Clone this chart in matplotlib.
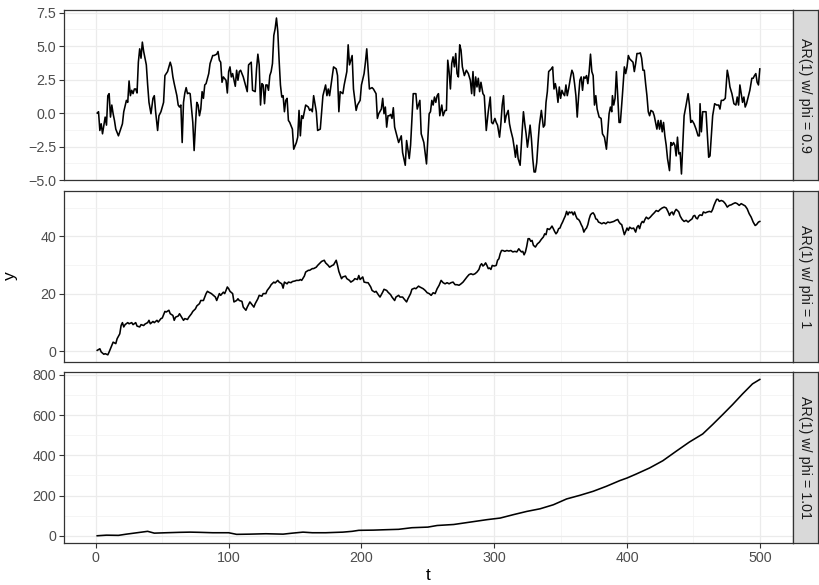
import matplotlib
matplotlib.use("Agg")
import matplotlib.pyplot as plt

# values, t = time step, y = simulated series
phi09_t = [
    1, 2, 3, 4, 5, 6, 7, 8, 9, 10, 11, 12, 13, 14, 15, 17, 18, 20, 21, 23,
    24, 25, 26, 27, 28, 29, 30, 31, 32, 33, 34, 35, 36, 38, 39, 40, 41.5, 43, 44, 45,
    46.5, 47.5, 49, 51, 52, 54, 55, 56, 57, 58, 59, 61, 62, 63, 64, 65, 66, 67, 68, 69,
    70, 71, 73, 74, 75, 76, 77, 78, 79, 80, 81, 82, 83, 85, 86, 88, 89, 91, 92, 93,
    94, 95, 96, 98, 99, 100, 101, 102, 103, 105, 106, 107, 108,
    109, 111, 113, 114, 115, 116, 117, 118, 120, 121, 122, 123, 124, 125, 126, 127, 128, 129, 130, 131,
    132, 133, 134, 135, 136, 137, 138, 139, 140, 141, 142, 143, 144, 145, 146, 148, 149, 151, 152, 153,
    154, 155, 156, 157, 158, 160, 161, 162, 163, 164, 166, 167, 169, 171, 173, 174, 175, 176, 178, 179,
    181, 182, 183, 184, 186, 187, 189, 190, 191, 193, 194, 196, 197, 199, 200, 202, 203, 204, 205, 206,
    208, 209, 211, 212, 213, 215, 216, 217, 218, 219, 220, 221, 222, 223, 224, 225, 227, 228, 230, 231,
    233, 234, 236, 237, 239, 241, 242, 244, 245, 247, 249,
    251, 252, 253, 254, 255, 256, 257, 258, 259, 260.5, 261.5, 263, 264, 265, 266, 267, 268, 269, 270, 271,
    272, 273, 274, 275, 276, 277.5, 279, 280.5, 282, 283, 284, 285, 286, 287, 288, 289, 290, 291.5, 292.5, 293.5,
    294, 295.5, 297, 298, 299, 300.5, 301.5, 302.5, 304, 305, 306, 307, 308, 309, 310.5, 311.5, 312.5, 314, 315, 316,
    317, 318, 319.5, 321, 322, 323, 324, 325, 326, 327, 328, 329, 330, 331, 332, 333, 334, 335.5, 337, 338,
    339, 340, 341, 342, 343, 344, 345, 346, 347, 348, 349, 350, 351, 352, 353, 354, 355, 356, 357.5, 358.5,
    359.5, 360.5, 361.5, 362.5, 363.5, 364.5, 365.5, 366.5, 367.5, 368.5, 369.5, 370.5, 371.5, 372.5, 373.5, 374.5, 375.5, 376.5, 377.5, 379,
    380.5, 381.5, 383, 384.5,
    386.5, 387.5, 388.5, 389, 390, 391, 392, 393, 394, 395, 396.5, 398, 399, 400, 401, 402, 403, 404.5, 405.5, 406.5,
    407.5, 409, 410, 411, 412, 413, 414, 415, 416, 417, 418, 419.5, 420.5, 421.5, 422.5, 423.5, 424.5, 425.5, 426.5, 427.5,
    428.5, 429.5, 430.5, 432, 433, 434, 435, 436, 437, 438, 439, 440, 441, 442, 443, 444.5, 446, 447, 448, 449,
    450.5, 452, 453.5, 454.5, 455, 456, 457, 458, 459.5, 460.5, 461.5, 462.5, 463.5, 464.5, 466, 467.5, 469, 470, 471, 472.5,
    474, 475.5, 476.5, 477.5, 479, 480.5, 482, 483, 484, 485, 486, 487, 488, 489, 490, 491.5, 492.5, 494, 495, 496,
    497, 498, 499, 500,
]
phi09_y = [
    0.0, 0.1, -1.3, -0.8, -1.55, -0.9, -0.3, -0.9, 1.3, 1.45, -0.3, 0.6, -0.05, -0.55, -1.2, -1.7, -1.4, -0.8, 0.1, 0.95,
    0.8, 2.4, 1.3, 1.7, 1.45, 1.8, 1.8, 1.5, 3.8, 4.8, 4.1, 5.3, 4.6, 3.6, 2.1, 0.8, -0.05, 1.1, 1.3, 0.1,
    -1.3, -0.2, 0.1, 0.8, 2.8, 3.1, 3.45, 3.8, 3.45, 2.7, 2.2, 1.3, 0.6, 0.45, 0.6, -2.2, 0.8, 1.5, 1.9, 1.45,
    1.5, 1.45, -0.7, -2.8, -0.9, 0.8, 0.6, -0.2, 0.3, 1.6, 1.1, 2.1, 2.2, 2.95, 3.7, 4.3, 4.3, 4.4, 4.6, 3.95,
    3.8, 2.3, 2.7, 2.45, 1.5, 3.1, 3.45, 2.7, 2.95, 2.0, 3.2, 2.45, 3.1,
    3.2, 2.7, 1.95, 1.6, 3.6, 3.7, 3.8, 1.7, 1.6, 3.3, 4.4, 3.6, 0.6, 2.2, 2.1, 0.7, 2.1, 2.1, 1.7, 2.8,
    3.1, 3.7, 5.8, 6.3, 7.1, 6.1, 3.95, 2.1, 1.2, 1.3, 0.1, 0.95, 1.1, -0.55, -0.7, -1.2, -2.7, -2.2, -1.8, 0.2,
    -1.7, -0.2, -0.4, 0.1, 0.6, 0.45, 0.2, 0.3, 0.1, 1.3, 0.1, -1.3, -1.2, 1.3, 2.1, 1.3, 1.8, 1.3, 2.7, 3.45,
    3.3, 2.8, 0.1, 1.6, 1.45, 2.1, 3.1, 5.1, 3.6, 4.3, 1.8, 0.2, 0.6, 0.95, 2.1, 2.95, 3.8, 4.8, 3.3, 1.8,
    1.9, 1.8, 1.45, -0.4, -0.05, 0.3, 1.1, -0.05, 0.45, -1.05, -0.2, -0.2, -0.1, -0.4, 0.4, -1.05, -1.8, -2.2, -1.7, -2.95,
    -3.9, -2.05, -3.4, -2.4, 1.45, 1.45, 0.3, 0.95, -1.55, -2.2, -3.8,
    -0.05, 0.1, 0.95, 0.6, 1.2, 0.8, 1.3, 1.45, -0.2, 0.6, -0.2, 0.2, 0.2, 3.95, 3.1, 1.8, 3.7, 4.2, 3.45, 4.45,
    2.95, 2.7, 5.1, 4.7, 3.45, 2.8, 3.2, 2.95, 2.45, 1.45, 3.1, 1.3, 2.7, 1.95, 2.6, 1.6, 2.3, 1.45, 1.3, -0.4,
    -1.3, 0.1, 1.2, -0.7, -0.8, -0.4, -0.7, -0.9, -1.8, -0.8, 0.6, 1.3, -0.7, -0.2, 0.2, -0.8, -1.3, -1.9, -2.55, -3.3,
    -2.4, -3.4, -3.9, -1.4, 0.1, -0.8, -1.55, -2.55, -1.8, -0.9, -1.9, -3.4, -4.4, -4.4, -3.7, -2.2, -0.9, 0.2, -1.05, -0.9,
    0.8, 1.6, 3.1, 3.2, 3.3, 3.45, 1.8, 2.2, 1.7, 0.8, 1.95, 1.1, 1.7, 1.45, 1.3, 2.1, 1.3, 1.8, 2.7, 3.2,
    2.95, 2.2, 1.3, -0.3, 1.2, 2.45, 2.7, 1.7, 2.7, 2.6, 2.8, 2.2, 3.1, 4.4, 3.1, 2.8, 0.6, 1.3, 0.3, -0.3,
    -0.4, -1.55, -1.8, -2.7,
    -0.05, 0.45, 0.1, 1.3, 0.6, 1.1, 3.1, 1.3, -0.7, -0.7, 1.3, 3.45, 2.95, 3.45, 4.3, 4.05, 3.95, 3.8, 3.1, 3.7,
    4.45, 4.45, 4.5, 4.1, 3.2, 3.2, 2.2, 1.3, 0.1, -0.2, 0.2, 0.1, -0.2, -0.7, -1.2, -0.55, -1.2, -0.55, -1.4, -0.7,
    -1.7, -2.4, -3.4, -4.3, -2.2, -2.4, -2.2, -2.4, -3.2, -1.8, -3.05, -2.95, -4.55, -2.4, -0.2, 0.6, 1.45, 0.6, -0.7, -0.55,
    -0.8, -1.2, -1.7, -1.7, 0.7, -1.4, 0.1, 0.1, 0.1, -1.55, -3.3, -3.2, -1.7, -0.2, 0.7, 0.6, 0.6, 0.3, 0.95, 0.95,
    1.1, 3.2, 2.7, 1.95, 1.45, 0.7, 0.6, 1.2, 0.6, 2.1, 1.45, 0.8, 1.2, 0.45, 0.7, 1.3, 1.7, 2.6, 2.6, 2.8,
    2.95, 2.3, 2.1, 3.3,
]

phi1_t = [
    1, 3, 4, 6, 7, 9, 10, 12, 13, 15, 16, 18, 19, 20, 21, 22, 24, 25, 27, 28,
    30, 31, 33, 34, 36, 37, 39, 40, 41, 43, 44, 46, 47, 49, 50, 52, 53, 55, 56, 58,
    59, 60, 62, 63, 65, 66, 67, 69, 70, 72, 73, 75, 76, 78, 79, 81, 82, 83, 84, 85,
    87, 88, 90, 91, 93, 94, 96, 97, 98, 99, 100, 101, 103, 104, 106, 107, 108, 110, 111, 113,
    114, 116, 117, 119, 120, 122, 123, 125, 126, 128, 129, 131, 132, 134, 135, 137, 138, 140, 141, 142,
    144, 145, 147, 148, 150, 151, 153, 154, 155, 157, 158, 160, 161, 163, 164, 166, 167, 169, 170, 172,
    173, 175, 176, 178, 179, 181, 182, 183, 185, 186, 188, 189, 191, 192, 194, 195, 197, 198, 199, 201,
    202, 204, 205, 207, 208, 210, 211, 213, 214, 216, 217, 219, 220, 222, 223, 225, 226, 228, 229, 231,
    232, 234, 235, 237, 238, 240, 241, 243, 244,
    246.5, 248, 249.5, 251, 252.5, 254, 255.5, 257, 258.5, 260, 261.5, 263, 264.5, 266, 267.5, 269, 270.5, 272, 273.5, 275,
    276.5, 278, 279.5, 281, 282.5, 284, 285.5, 287, 288.5, 289.5, 290.5, 291.5, 292.5, 293.5, 294.5, 295.5, 296.5, 297.5, 298.5, 300,
    301.5, 302.5, 303.5, 304.5, 305.5, 306.5, 308, 309.5, 311, 312.5, 314, 315.5, 317, 318.5, 319.5, 320.5, 321.5, 322.5, 323.5, 324.5,
    325.5, 326.5, 327.5, 328.5, 329.5, 331, 332.5, 334, 335.5, 337, 338, 339, 340, 341.5, 342.5, 343.5, 344.5, 345.5, 346.5, 347.5,
    348.5, 349.5, 350.5, 351.5, 352.5, 353.5, 354.5, 355.5, 356.5, 357.5, 358.5, 359.5, 360.5, 361.5, 362.5, 363.5, 364.5, 365.5, 366.5, 367.5,
    368.5, 369.5, 370.5, 371.5, 372.5, 373.5, 374.5, 375.5, 376.5, 377.5, 378.5, 379.5, 381, 382.5, 384, 385.5, 387, 388.5, 390, 391.5,
    393, 394, 395, 396, 397, 398, 399, 400, 401, 402, 403.5, 405, 406.5, 407.5, 408.5, 409.5, 410.5, 411.5, 412.5, 413.5,
    414.5, 416, 417.5, 419, 420.5, 422, 423.5, 425, 426.5, 428, 429.5, 431, 432, 433, 434, 435, 436, 437, 438, 439,
    440, 441.5, 443, 444.5, 446, 447.5, 449, 450, 451, 452, 453, 454, 455, 456.5, 457.5, 459, 460.5, 462, 463.5, 464.5,
    465.5, 466.5, 467.5, 468.5, 469.5, 471, 472.5, 474, 475.5, 477, 478.5, 480, 481.5, 483, 484.5, 486, 487.5, 489, 490.5, 492,
    493.5, 495, 496.5, 497.5, 499, 500,
]
phi1_y = [
    0.35, 0.9, -0.2, -1.0, -0.8, -1.2, -0.2, 2.1, 3.2, 2.7, 4.4, 6.1, 9.0, 10.0, 8.5, 9.3, 10.0, 9.6, 10.0, 9.3,
    10.0, 8.8, 8.5, 9.3, 9.0, 9.5, 10.0, 10.8, 9.6, 10.4, 10.0, 10.8, 10.2, 11.4, 11.6, 13.9, 13.7, 14.3, 13.1, 12.5,
    10.8, 11.9, 12.3, 13.1, 11.6, 10.8, 11.4, 11.1, 11.9, 13.1, 13.9, 14.8, 15.8, 16.6, 17.7, 17.7, 18.9, 20.1, 20.9, 20.6,
    20.1, 19.7, 18.9, 17.7, 20.1, 19.5, 20.6, 20.1, 21.2, 22.4, 21.8, 20.9, 20.1, 17.2, 17.7, 18.3, 17.7, 17.4, 15.4, 14.3,
    15.4, 17.2, 16.6, 15.4, 16.6, 18.3, 19.5, 19.2, 20.1, 20.1, 21.2, 22.4, 23.2, 24.1, 23.8, 24.7, 24.1, 23.5, 22.0, 24.1,
    23.5, 24.1, 23.9, 24.3, 24.5, 24.7, 24.7, 25.0, 24.7, 26.2, 27.6, 28.2, 28.2, 28.8, 28.8, 29.3, 29.9, 30.8, 31.3, 31.7,
    30.8, 29.9, 29.3, 29.9, 30.1, 31.7, 29.9, 27.8, 25.3, 25.9, 26.2, 25.3, 24.7, 24.1, 24.7, 25.3, 25.0, 26.4, 25.0, 25.9,
    24.1, 23.9, 23.9, 22.4, 21.2, 20.6, 20.9, 19.5, 18.9, 20.6, 21.6, 21.2, 20.6, 19.7, 18.9, 17.7, 18.9, 19.5, 18.9, 18.9,
    18.3, 17.2, 18.3, 20.1, 21.6, 22.0, 21.8, 22.7, 22.4,
    21.8, 21.2, 20.4, 20.1, 19.5, 20.4, 20.1, 21.8, 23.0, 24.7, 23.9, 23.5, 23.9, 23.5, 23.9, 24.1, 23.2, 23.2, 23.0, 23.5,
    24.1, 25.0, 25.9, 26.7, 27.0, 26.7, 27.0, 27.6, 28.5, 29.9, 30.5, 29.7, 30.1, 30.8, 29.9, 28.8, 29.0, 28.5, 29.9, 29.7,
    29.9, 31.7, 32.2, 34.0, 35.1, 35.1, 34.8, 35.1, 34.9, 35.1, 34.6, 34.8, 34.6, 35.7, 35.1, 34.6, 34.8, 33.6, 34.6, 36.6,
    39.2, 39.2, 38.3, 38.6, 36.9, 36.3, 37.4, 38.0, 39.0, 39.8, 40.9, 40.6, 42.7, 42.4, 42.9, 43.6, 42.7, 41.7, 40.9, 41.5,
    42.7, 42.9, 44.1, 45.0, 46.1, 47.1, 48.7, 47.5, 48.5, 48.2, 48.5, 47.5, 48.5, 47.1, 46.1, 45.9, 45.2, 44.1, 43.2, 41.5,
    42.4, 42.9, 44.1, 46.1, 47.5, 48.0, 48.2, 47.5, 46.1, 45.9, 45.0, 44.8, 44.4, 44.8, 44.4, 45.0, 44.8, 45.0, 45.2, 45.6,
    45.9, 45.0, 44.4, 44.1, 42.4, 40.6, 41.7, 42.9, 42.1, 43.2, 42.7, 42.9, 41.5, 43.2, 43.8, 42.7, 44.4, 45.2, 44.8, 45.9,
    46.7, 46.1, 46.7, 47.5, 48.2, 49.0, 48.7, 49.4, 49.9, 50.2, 49.9, 48.5, 47.3, 48.2, 48.5, 47.5, 48.7, 49.4, 49.0, 48.5,
    47.1, 45.9, 45.2, 45.6, 45.0, 45.6, 46.1, 47.1, 47.3, 46.4, 46.1, 47.1, 47.5, 47.3, 48.5, 48.2, 48.5, 48.7, 48.5, 49.4,
    50.8, 51.9, 52.9, 52.9, 52.2, 52.5, 52.2, 51.4, 50.2, 50.8, 51.0, 51.4, 51.7, 51.4, 50.8, 51.4, 51.0, 50.6, 49.6, 47.9,
    46.7, 45.0, 43.8, 44.1, 45.0, 45.2,
]

phi101_t = [
    1, 8, 17, 23, 31, 39, 44, 53, 63, 71, 78, 88, 100, 106, 116, 128, 141, 148, 156, 163,
    173, 186, 193, 198, 209, 218, 228, 238, 250, 257, 269.5, 282, 294.5, 304.5, 314.5, 324.5, 334.5, 344.5, 354.5, 364.5,
    374.5, 384.5, 394.5, 400, 407, 417, 427, 437, 447, 457, 464.5, 472, 479.5, 487, 494.5, 500,
]
phi101_y = [
    0, 3, 2, 8, 15, 22, 13, 15, 17, 18, 17, 15, 15, 7, 8, 10, 8, 13, 18, 15,
    15, 18, 22, 27, 28, 30, 32, 40, 43, 51, 56, 68, 80, 88, 105, 121, 134, 154, 183, 201,
    221, 246, 274, 287, 307, 337, 373, 420, 466, 506, 553, 602, 652, 705, 755, 777,
]

strip_labels = ["AR(1) w/ phi = 0.9", "AR(1) w/ phi = 1", "AR(1) w/ phi = 1.01"]
y_ticks = [[-5.0, -2.5, 0.0, 2.5, 5.0, 7.5], [0, 20, 40], [0, 200, 400, 600, 800]]
y_ticklabels = [["\u22125.0", "\u22122.5", "0.0", "2.5", "5.0", "7.5"],
                ["0", "20", "40"],
                ["0", "200", "400", "600", "800"]]
x_ticks = [0, 100, 200, 300, 400, 500]

W, H = 820, 585
FONT = "Liberation Sans"
TICK_SIZE = 10.3


def box(left, top, right, bottom):
    return [left / W, 1 - bottom / H, (right - left) / W, (bottom - top) / H]


fig = plt.figure(figsize=(W / 100, H / 100), dpi=100)
fig.patch.set_facecolor("white")

series = [(phi09_t, phi09_y), (phi1_t, phi1_y), (phi101_t, phi101_y)]
rows = [(10, 180), (191, 362), (372, 543)]
ylims = [(-5.0, 7.7), (-3.7, 55.8), (-36, 814)]

for i, ((t, y), (top, bottom)) in enumerate(zip(series, rows)):
    ax = fig.add_axes(box(64, top, 793, bottom))
    ax.plot(t, y, color="black", lw=1.15, solid_joinstyle="round")
    ax.set_xlim(-24, 525)

    ax.set_xticks(x_ticks)
    ax.set_xticks([50, 150, 250, 350, 450], minor=True)
    yt = y_ticks[i]
    step = yt[1] - yt[0]
    ax.set_yticks(yt)
    ax.set_yticks([v + step / 2 for v in [yt[0] - step] + yt], minor=True)
    ax.set_yticklabels(y_ticklabels[i], fontsize=TICK_SIZE, color="#4D4D4D", family=FONT)
    ax.set_ylim(*ylims[i])

    ax.grid(which="major", color="#EBEBEB", lw=0.9)
    ax.grid(which="minor", color="#F2F2F2", lw=0.5)
    ax.set_axisbelow(True)
    ax.tick_params(axis="both", which="minor", length=0)
    ax.tick_params(axis="y", which="major", length=3.5, width=0.8, color="#333333", pad=2)
    if i < 2:
        ax.tick_params(axis="x", which="major", length=0, labelbottom=False)
    else:
        ax.set_xticklabels([str(v) for v in x_ticks], fontsize=TICK_SIZE, color="#4D4D4D", family=FONT)
        ax.tick_params(axis="x", which="major", length=3.5, width=0.8, color="#333333", pad=2)
    for s in ax.spines.values():
        s.set_color("#333333")
        s.set_linewidth(0.9)

    st = fig.add_axes(box(793, top, 818, bottom))
    st.set_facecolor("#D9D9D9")
    st.set_xticks([])
    st.set_yticks([])
    for s in st.spines.values():
        s.set_color("#333333")
        s.set_linewidth(0.9)
    st.text(0.5, 0.5, strip_labels[i], rotation=270, ha="center", va="center",
            fontsize=TICK_SIZE, color="#1A1A1A", family=FONT, transform=st.transAxes)

fig.text(10 / W, 1 - 276 / H, "y", rotation=90, ha="center", va="center", fontsize=12.5, family=FONT)
fig.text(428 / W, 1 - 576 / H, "t", ha="center", va="center", fontsize=12.5, family=FONT)

fig.savefig("out.png", dpi=100)
